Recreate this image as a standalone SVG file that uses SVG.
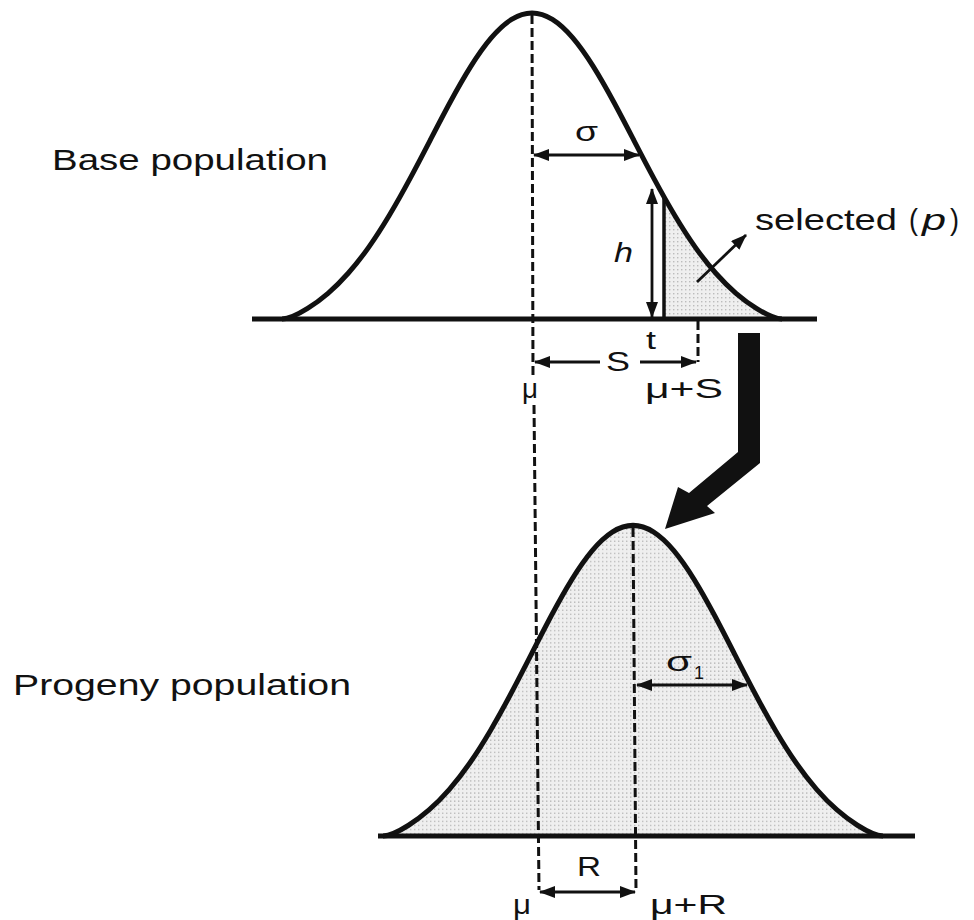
<svg xmlns="http://www.w3.org/2000/svg" xmlns:xlink="http://www.w3.org/1999/xlink" width="974" height="920" viewBox="0 0 974 920">
<style>
.curve{fill:none;stroke:#111;stroke-width:5;stroke-linejoin:round}
.base{stroke:#111;stroke-width:5;fill:none}
.dash{stroke:#111;stroke-width:3;stroke-dasharray:9 4;fill:none}
.dim{stroke:#111;stroke-width:2.8;fill:none}
.lbl{font-family:"Liberation Sans",Arial,sans-serif;fill:#111}
</style>
<defs>
<pattern id="dots" width="4" height="4" patternUnits="userSpaceOnUse">
<rect width="4" height="4" fill="#efefef"/>
<rect x="1" y="1" width="1.4" height="1.4" fill="#bcbcbc"/>
</pattern>
<marker id="ah" viewBox="0 0 16 12" refX="15" refY="6" markerWidth="16" markerHeight="12" markerUnits="userSpaceOnUse" orient="auto-start-reverse">
<path d="M0 0 L16 6 L0 12 Z" fill="#111"/>
</marker>
<path id="bell" d="M -250 0 Q -241.4 0 -224.4 -10.6 C -217.6 -14.83 -210.8 -19.85 -204 -25.7 C -197.2 -31.55 -190.4 -38.3 -183.6 -46 C -176.8 -53.7 -170 -62.28 -163.2 -71.9 C -156.4 -81.52 -149.6 -92.14 -142.8 -103.5 C -136 -114.86 -129.2 -126.97 -122.4 -139.6 C -115.6 -152.23 -108.8 -165.29 -102 -178.4 C -95.2 -191.51 -88.4 -204.65 -81.6 -217.2 C -74.8 -229.75 -68 -241.77 -61.2 -252.6 C -54.4 -263.43 -47.6 -273.12 -40.8 -281.1 C -34 -289.08 -27.2 -295.36 -20.4 -299.6 C -13.6 -303.84 -6.8 -306 0 -306 C 6.8 -306 13.6 -303.84 20.4 -299.6 C 27.2 -295.36 34 -289.08 40.8 -281.1 C 47.6 -273.12 54.4 -263.43 61.2 -252.6 C 68 -241.77 74.8 -229.75 81.6 -217.2 C 88.4 -204.65 95.2 -191.51 102 -178.4 C 108.8 -165.29 115.6 -152.23 122.4 -139.6 C 129.2 -126.97 136 -114.86 142.8 -103.5 C 149.6 -92.14 156.4 -81.52 163.2 -71.9 C 170 -62.28 176.8 -53.7 183.6 -46 C 190.4 -38.3 197.2 -31.55 204 -25.7 C 210.8 -19.85 217.6 -14.83 224.4 -10.6 Q 241.4 0 250 0"/>
<clipPath id="topArea">
<path transform="translate(532,319)" d="M -250 0 Q -241.4 0 -224.4 -10.6 C -217.6 -14.83 -210.8 -19.85 -204 -25.7 C -197.2 -31.55 -190.4 -38.3 -183.6 -46 C -176.8 -53.7 -170 -62.28 -163.2 -71.9 C -156.4 -81.52 -149.6 -92.14 -142.8 -103.5 C -136 -114.86 -129.2 -126.97 -122.4 -139.6 C -115.6 -152.23 -108.8 -165.29 -102 -178.4 C -95.2 -191.51 -88.4 -204.65 -81.6 -217.2 C -74.8 -229.75 -68 -241.77 -61.2 -252.6 C -54.4 -263.43 -47.6 -273.12 -40.8 -281.1 C -34 -289.08 -27.2 -295.36 -20.4 -299.6 C -13.6 -303.84 -6.8 -306 0 -306 C 6.8 -306 13.6 -303.84 20.4 -299.6 C 27.2 -295.36 34 -289.08 40.8 -281.1 C 47.6 -273.12 54.4 -263.43 61.2 -252.6 C 68 -241.77 74.8 -229.75 81.6 -217.2 C 88.4 -204.65 95.2 -191.51 102 -178.4 C 108.8 -165.29 115.6 -152.23 122.4 -139.6 C 129.2 -126.97 136 -114.86 142.8 -103.5 C 149.6 -92.14 156.4 -81.52 163.2 -71.9 C 170 -62.28 176.8 -53.7 183.6 -46 C 190.4 -38.3 197.2 -31.55 204 -25.7 C 210.8 -19.85 217.6 -14.83 224.4 -10.6 Q 241.4 0 250 0 Z"/>
</clipPath>
</defs>

<g id="base-population">
<rect x="664" y="150" width="140" height="170" fill="url(#dots)" clip-path="url(#topArea)"/>
<use xlink:href="#bell" href="#bell" class="curve" transform="translate(532,319)"/>
<line class="base" x1="252" y1="319" x2="817" y2="319"/>
<line x1="664" y1="196" x2="664" y2="319" stroke="#111" stroke-width="3.5"/>
<text class="lbl" x="52" y="170" font-size="30" textLength="276" lengthAdjust="spacingAndGlyphs">Base population</text>
</g>

<g id="progeny-population">
<path transform="translate(633,836) scale(1,1.015)" d="M -250 0 Q -241.4 0 -224.4 -10.6 C -217.6 -14.83 -210.8 -19.85 -204 -25.7 C -197.2 -31.55 -190.4 -38.3 -183.6 -46 C -176.8 -53.7 -170 -62.28 -163.2 -71.9 C -156.4 -81.52 -149.6 -92.14 -142.8 -103.5 C -136 -114.86 -129.2 -126.97 -122.4 -139.6 C -115.6 -152.23 -108.8 -165.29 -102 -178.4 C -95.2 -191.51 -88.4 -204.65 -81.6 -217.2 C -74.8 -229.75 -68 -241.77 -61.2 -252.6 C -54.4 -263.43 -47.6 -273.12 -40.8 -281.1 C -34 -289.08 -27.2 -295.36 -20.4 -299.6 C -13.6 -303.84 -6.8 -306 0 -306 C 6.8 -306 13.6 -303.84 20.4 -299.6 C 27.2 -295.36 34 -289.08 40.8 -281.1 C 47.6 -273.12 54.4 -263.43 61.2 -252.6 C 68 -241.77 74.8 -229.75 81.6 -217.2 C 88.4 -204.65 95.2 -191.51 102 -178.4 C 108.8 -165.29 115.6 -152.23 122.4 -139.6 C 129.2 -126.97 136 -114.86 142.8 -103.5 C 149.6 -92.14 156.4 -81.52 163.2 -71.9 C 170 -62.28 176.8 -53.7 183.6 -46 C 190.4 -38.3 197.2 -31.55 204 -25.7 C 210.8 -19.85 217.6 -14.83 224.4 -10.6 Q 241.4 0 250 0 Z" fill="url(#dots)" stroke="none"/>
<use xlink:href="#bell" href="#bell" class="curve" transform="translate(633,836) scale(1,1.015)"/>
<line class="base" x1="378" y1="836" x2="915" y2="836"/>
<text class="lbl" x="13" y="695" font-size="30" textLength="338" lengthAdjust="spacingAndGlyphs">Progeny population</text>
</g>

<g id="selection-arrow">
<polygon points="738,333 760,333 760,463 707,506 715,513 665,529 678,487 689,493 738,452" fill="#111"/>
</g>

<g id="connectors">
<line class="dash" x1="532" y1="15" x2="533" y2="376"/>
<line class="dash" x1="534" y1="405" x2="539" y2="890"/>
<line class="dash" x1="633" y1="528" x2="636" y2="890"/>
<line class="dash" x1="698" y1="321" x2="698" y2="362"/>
<line class="dim" x1="534" y1="155" x2="639" y2="155" marker-start="url(#ah)" marker-end="url(#ah)"/>
<line class="dim" x1="652" y1="189" x2="652" y2="317" marker-start="url(#ah)" marker-end="url(#ah)"/>
<line class="dim" x1="535" y1="362" x2="600" y2="362" marker-start="url(#ah)"/>
<line class="dim" x1="640" y1="362" x2="696" y2="362" marker-end="url(#ah)"/>
<line class="dim" x1="697" y1="282" x2="746" y2="235" stroke-width="3.2" marker-end="url(#ah)"/>
<line class="dim" x1="540" y1="892" x2="635" y2="892" marker-start="url(#ah)" marker-end="url(#ah)"/>
<line class="dim" x1="637" y1="685" x2="747" y2="685" marker-start="url(#ah)" marker-end="url(#ah)"/>
</g>

<g id="labels">
<text class="lbl" x="575" y="141" font-size="28" textLength="23" lengthAdjust="spacingAndGlyphs">σ</text>
<text class="lbl" x="614" y="262" font-size="28" font-style="italic" textLength="19" lengthAdjust="spacingAndGlyphs">h</text>
<text class="lbl" x="755" y="230" font-size="30" textLength="142" lengthAdjust="spacingAndGlyphs">selected</text>
<text class="lbl" x="909" y="230" font-size="30" textLength="9" lengthAdjust="spacingAndGlyphs">(</text>
<text class="lbl" x="922" y="230" font-size="30" font-style="italic" textLength="24" lengthAdjust="spacingAndGlyphs">p</text>
<text class="lbl" x="950" y="230" font-size="30" textLength="9" lengthAdjust="spacingAndGlyphs">)</text>
<text class="lbl" x="646" y="349" font-size="26" textLength="10" lengthAdjust="spacingAndGlyphs">t</text>
<text class="lbl" x="606" y="371" font-size="28" textLength="24" lengthAdjust="spacingAndGlyphs">S</text>
<text class="lbl" x="522" y="398" font-size="28" textLength="16" lengthAdjust="spacingAndGlyphs">μ</text>
<text class="lbl" x="645" y="398" font-size="28" textLength="78" lengthAdjust="spacingAndGlyphs">μ+S</text>
<text class="lbl" x="666" y="671" font-size="28" textLength="26" lengthAdjust="spacingAndGlyphs">σ</text>
<text class="lbl" x="694" y="679" font-size="19" textLength="10" lengthAdjust="spacingAndGlyphs">1</text>
<text class="lbl" x="577" y="876" font-size="28" textLength="24" lengthAdjust="spacingAndGlyphs">R</text>
<text class="lbl" x="513" y="914" font-size="28" textLength="18" lengthAdjust="spacingAndGlyphs">μ</text>
<text class="lbl" x="650" y="914" font-size="28" textLength="77" lengthAdjust="spacingAndGlyphs">μ+R</text>
</g>
</svg>
